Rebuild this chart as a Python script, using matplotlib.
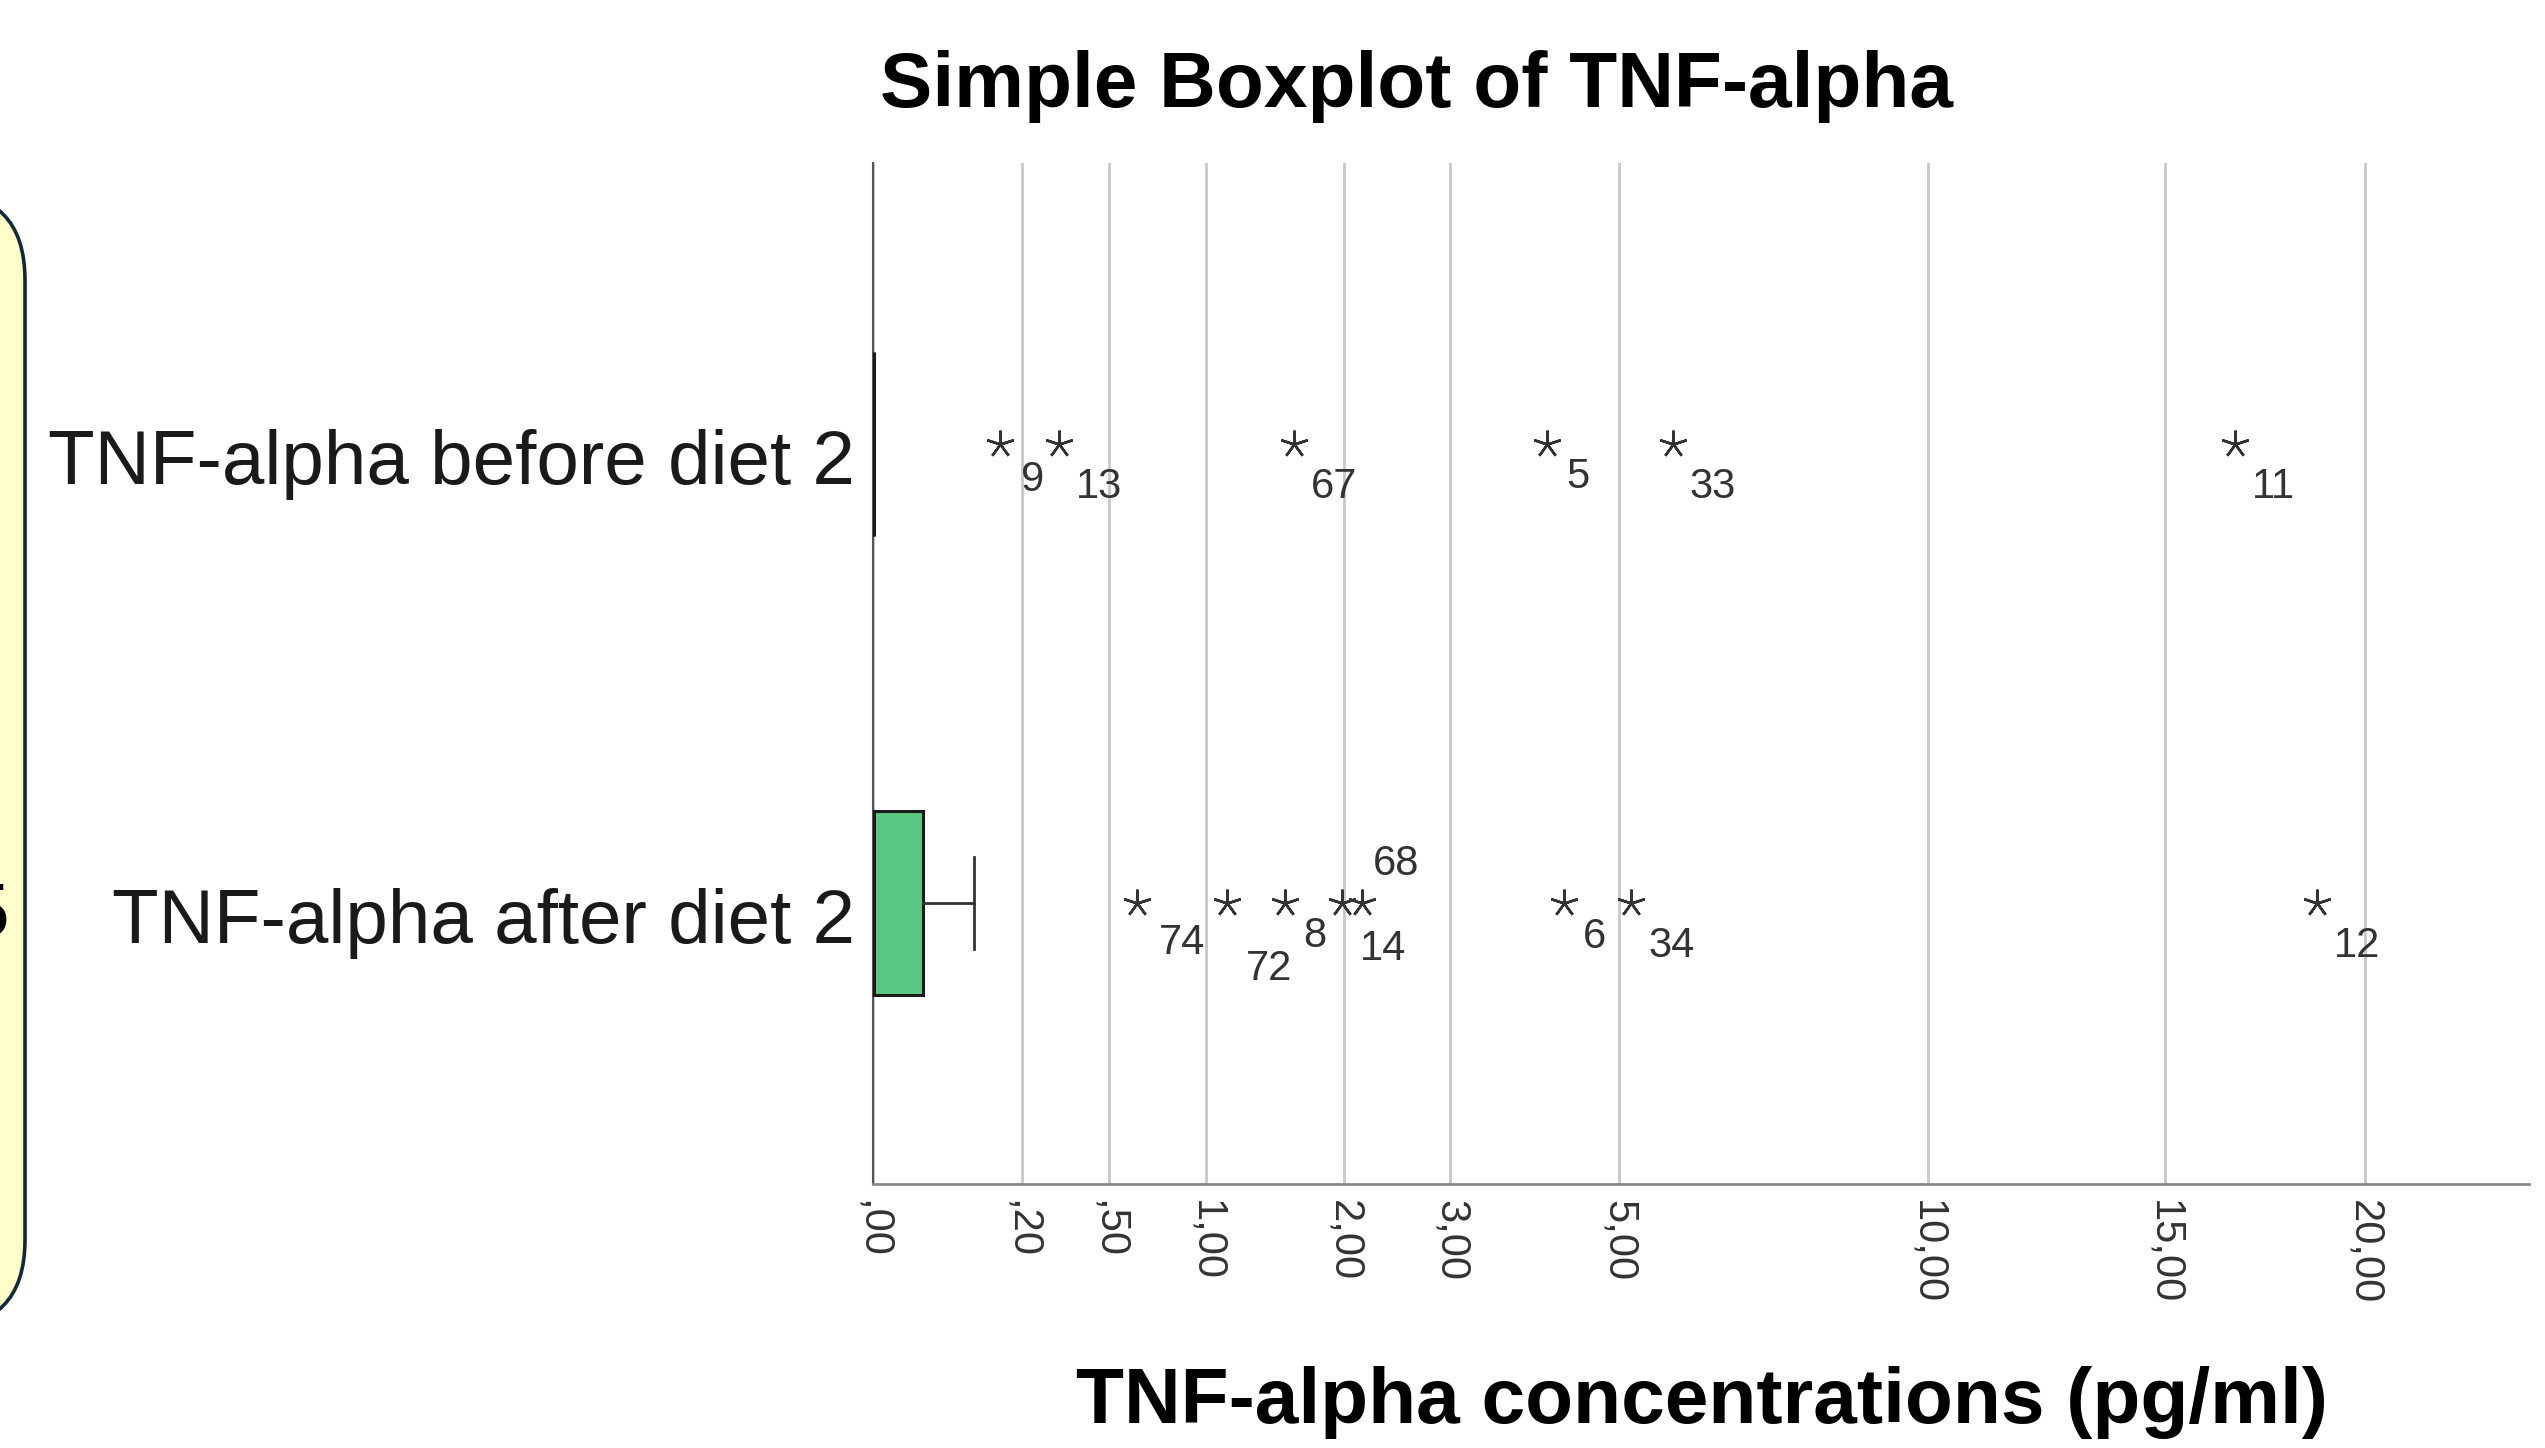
import numpy as np
import matplotlib
matplotlib.use('Agg')
import matplotlib.pyplot as plt
from matplotlib.patches import FancyBboxPatch
from matplotlib.transforms import IdentityTransform, ScaledTranslation

plt.rcParams['font.family'] = ['Liberation Sans', 'DejaVu Sans']

categories = ['TNF-alpha before diet 2', 'TNF-alpha after diet 2']

# box summaries in pg/ml (median, quartiles, whisker ends)
medians = [0.0, 0.0]
q1 = [0.0, 0.0]
q3 = [0.0, 0.0227]
whisker_lo = [0.0, 0.0]
whisker_hi = [0.0, 0.092]

# extreme values with their case numbers
before_ids = ['9', '13', '67', '5', '33', '11']
before_vals = [0.145, 0.311, 1.596, 4.08, 5.75, 16.68]
after_ids = ['74', '72', '8', '68', '14', '6', '34', '12']
after_vals = [0.626, 1.13, 1.53, 1.98, 2.15, 4.29, 5.17, 18.74]

tick_vals = [0, 0.2, 0.5, 1, 2, 3, 5, 10, 15, 20]
tick_labels = [',00', ',20', ',50', '1,00', '2,00', '3,00', '5,00', '10,00', '15,00', '20,00']

# where each case label sits relative to its star (pixels: left edge, baseline below star)
label_shift = {'9': (21, 47), '5': (20, 44), '6': (19, 45), '8': (18, 44),
               '74': (22, 51), '72': (19, 77), '68': (31, -28), '14': (-2, 57)}
default_shift = (17, 54)

W, H, DPI = 2545, 1448, 100
fig = plt.figure(figsize=(W / DPI, H / DPI), dpi=DPI)

# the cut-off yellow note box at the left edge
note = FancyBboxPatch((-600, H - 1328), 625, 1328 - 192,
                      boxstyle='round,pad=0,rounding_size=88',
                      facecolor='#ffffcc', edgecolor='#0e2a3f', linewidth=2.6,
                      transform=IdentityTransform())
fig.patches.append(note)
fig.text(10 / W, 1 - 936 / H, '5', ha='right', va='baseline', fontsize=55, color='black')

ax = fig.add_axes([872.6 / W, 1 - 1184 / H, (2528.7 - 872.6) / W, (1184 - 163) / H])
ax.set_xscale('function', functions=(lambda x: np.sqrt(np.clip(x, 0, None)), np.square))
ax.set_xlim(0, 24.64)
ax.set_ylim(1.61, -0.61)

stats = []
for i in range(len(categories)):
    stats.append(dict(med=medians[i], q1=q1[i], q3=q3[i],
                      whislo=whisker_lo[i], whishi=whisker_hi[i], fliers=[]))

ax.bxp(stats, positions=[0, 1], widths=0.4, capwidths=0.2, orientation='horizontal',
       patch_artist=True, showfliers=False,
       boxprops=dict(facecolor='#5ac882', edgecolor='#1a1a1a', linewidth=2.2),
       medianprops=dict(color='#1a1a1a', linewidth=3.6),
       whiskerprops=dict(color='#333333', linewidth=2.0),
       capprops=dict(color='#333333', linewidth=2.0), zorder=3)

for y, ids, vals in [(0, before_ids, before_vals), (1, after_ids, after_vals)]:
    ax.plot(vals, [y] * len(vals), linestyle='none', marker=(5, 2, 0), ms=20,
            mew=1.8, color='#333333', zorder=4)
    for lab, v in zip(ids, vals):
        dx, dy = label_shift.get(lab, default_shift)
        ax.annotate(lab, (v, y), xytext=(dx * 0.72, -dy * 0.72), textcoords='offset points',
                    ha='left', va='baseline', fontsize=30, color='#333333')

ax.set_xticks(tick_vals)
ax.set_xticklabels(tick_labels, rotation=270, fontsize=30, color='#333333')
ax.tick_params(axis='x', length=0, pad=11.5)
ax.grid(axis='x', color='#c8c8c8', linewidth=2.0, zorder=0)
ax.set_axisbelow(True)

ax.set_yticks([0, 1])
ax.set_yticklabels(categories, fontsize=55, color='#1a1a1a', va='baseline')
ax.tick_params(axis='y', length=0, pad=12.5)
shift = ScaledTranslation(0, -40 / DPI, fig.dpi_scale_trans)
for lbl in ax.get_yticklabels():
    lbl.set_transform(lbl.get_transform() + shift)

for s in ['top', 'right']:
    ax.spines[s].set_visible(False)
ax.spines['left'].set_color('#555555')
ax.spines['left'].set_linewidth(1.5)
ax.spines['bottom'].set_color('#8a8a8a')
ax.spines['bottom'].set_linewidth(2.0)

fig.text(1416 / W, 1 - 107 / H, 'Simple Boxplot of TNF-alpha', ha='center', va='baseline',
         fontsize=56.5, fontweight='bold')
fig.text(1702 / W, 1 - 1423 / H, 'TNF-alpha concentrations (pg/ml)', ha='center',
         va='baseline', fontsize=56.5, fontweight='bold')

fig.savefig('out.png', dpi=DPI)
